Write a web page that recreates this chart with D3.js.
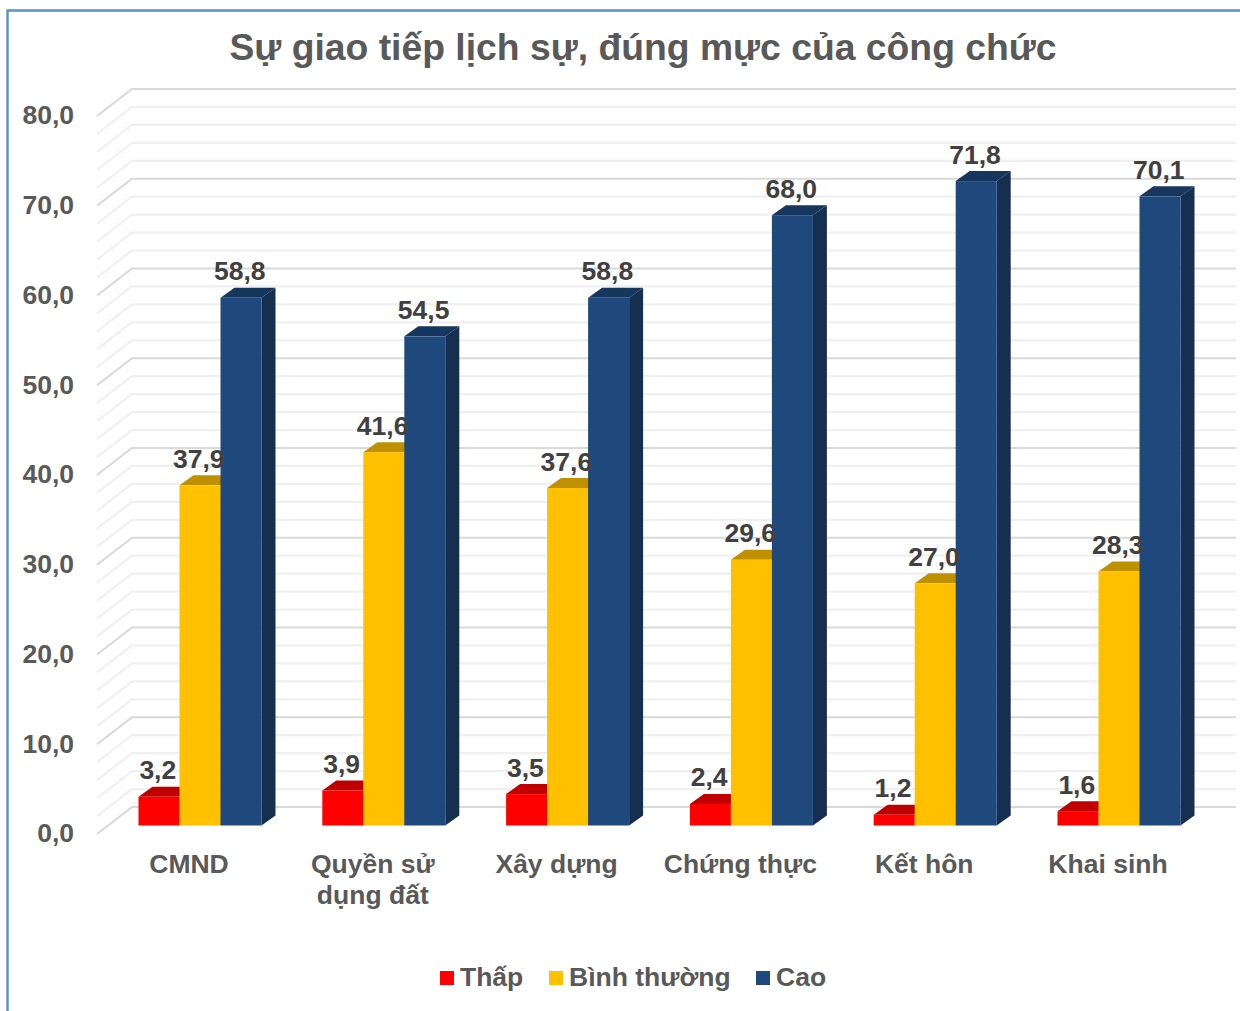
<!DOCTYPE html>
<html><head><meta charset="utf-8">
<script src="https://cdn.jsdelivr.net/npm/d3@7"></script>
<style>html,body{margin:0;padding:0;background:#fff}svg{display:block}text{font-family:"Liberation Sans",Arial,sans-serif;font-weight:700}</style>
</head><body><svg id="c" width="1240" height="1011"></svg>
<script>
const title = "Sự giao tiếp lịch sự, đúng mực của công chức";
const categories = ["CMND", "Quyền sử dụng đất", "Xây dựng", "Chứng thực", "Kết hôn", "Khai sinh"];
const categoryLines = [["CMND"], ["Quyền sử", "dụng đất"], ["Xây dựng"], ["Chứng thực"], ["Kết hôn"], ["Khai sinh"]];
const seriesNames = ["Thấp", "Bình thường", "Cao"];
const thap = [3.2, 3.9, 3.5, 2.4, 1.2, 1.6];
const binhThuong = [37.9, 41.6, 37.6, 29.6, 27.0, 28.3];
const cao = [58.8, 54.5, 58.8, 68.0, 71.8, 70.1];
const seriesValues = [thap, binhThuong, cao];
const majorTicks = [0, 10, 20, 30, 40, 50, 60, 70, 80];
const minorTicks = [2, 4, 6, 8, 12, 14, 16, 18, 22, 24, 26, 28, 32, 34, 36, 38, 42, 44, 46, 48, 52, 54, 56, 58, 62, 64, 66, 68, 72, 74, 76, 78];
const frontColors = ["#FF0000", "#FFC000", "#1F497D"];
const topColors = ["#C00000", "#BF9000", "#17365D"];
const sideColors = ["#A80000", "#A67C00", "#162E50"];

const svg = d3.select("#c");
const fmt = v => v.toFixed(1).replace(".", ",");
const y = d3.scaleLinear().domain([0, 80]).range([825.5, 107.5]);
const x0 = d3.scaleBand().domain(categories).range([108.1, 1210.9]);
const x1 = d3.scaleBand().domain(seriesNames).range([-61.5, 61.5]);
const fs = 26.5;

// border
svg.append("path").attr("d", "M7.5,1011V10.5H1240").attr("fill", "none").attr("stroke", "#5B8FCB").attr("stroke-width", 2.4);

// title
svg.append("text").attr("x", 643).attr("y", 60).attr("text-anchor", "middle")
  .attr("font-size", 37.3).attr("fill", "#595959").text(title);

// wall & side gridlines
const wallDy = -18.5, sideX0 = 97, sideX1 = 132, sideEnd = 1236;
const gridPath = v => {
  const yb = y(v) + wallDy;
  return `M${sideX0},${yb + 27}L${sideX1},${yb}H${sideEnd}`;
};
svg.append("g").selectAll("path").data(minorTicks).join("path")
  .attr("d", gridPath).attr("fill", "none").attr("stroke", "#F0F0F0").attr("stroke-width", 2.2);
svg.append("g").selectAll("path").data(majorTicks).join("path")
  .attr("d", gridPath).attr("fill", "none").attr("stroke", "#D9D9D9").attr("stroke-width", 2.2);

// value axis
const axis = d3.axisLeft(y).tickValues(majorTicks).tickFormat(fmt).tickSize(0).tickPadding(0);
const ag = svg.append("g").attr("transform", "translate(74,7)").call(axis);
ag.select(".domain").remove();
ag.selectAll("text").attr("font-size", fs).attr("fill", "#595959").attr("x", 0).attr("dy", "0.35em")
  .style("font-family", '"Liberation Sans",Arial,sans-serif').style("font-weight", 700);

// bars
const bw = x1.bandwidth(), dx = 14, dy = -10;
const bars = [];
categories.forEach((c, ci) => seriesNames.forEach((s, si) => bars.push({c, ci, s, si, v: seriesValues[si][ci]})));
const g = svg.append("g");
const bar = g.selectAll("g").data(bars).join("g")
  .attr("transform", d => `translate(${x0(d.c) + x0.bandwidth() / 2 + x1(d.s)},0)`);
bar.append("path").attr("fill", d => topColors[d.si])
  .attr("d", d => `M0,${y(d.v)}l${dx},${dy}h${bw}l${-dx},${-dy}z`);
bar.append("path").attr("fill", d => sideColors[d.si])
  .attr("d", d => `M${bw},${y(d.v)}l${dx},${dy}V${y(0) + dy}l${-dx},${-dy}z`);
bar.append("rect").attr("fill", d => frontColors[d.si])
  .attr("width", bw).attr("y", d => y(d.v)).attr("height", d => y(0) - y(d.v));

// data labels
svg.append("g").selectAll("text").data(bars).join("text")
  .attr("x", d => x0(d.c) + x0.bandwidth() / 2 + x1(d.s) + bw / 2 - 1.2)
  .attr("y", d => y(d.v) - 17.5).attr("text-anchor", "middle")
  .attr("font-size", fs).attr("fill", "#404040").text(d => fmt(d.v));

// category labels
const cg = svg.append("g").selectAll("text").data(categories).join("text")
  .attr("x", d => x0(d) + x0.bandwidth() / 2 - 11).attr("y", 873)
  .attr("text-anchor", "middle").attr("font-size", fs).attr("fill", "#595959");
cg.selectAll("tspan").data((d, i) => categoryLines[i]).join("tspan")
  .attr("x", function () { return d3.select(this.parentNode).attr("x"); })
  .attr("dy", (d, i) => i ? 31 : 0).text(d => d);

// legend
const legendX = [440, 549, 756];
const lg = svg.append("g").selectAll("g").data(seriesNames).join("g")
  .attr("transform", (d, i) => `translate(${legendX[i]},971)`);
lg.append("rect").attr("width", 14).attr("height", 14).attr("fill", (d, i) => frontColors[i]);
lg.append("text").attr("x", 20).attr("y", 15).attr("font-size", fs).attr("fill", "#595959").text(d => d);
</script></body></html>
